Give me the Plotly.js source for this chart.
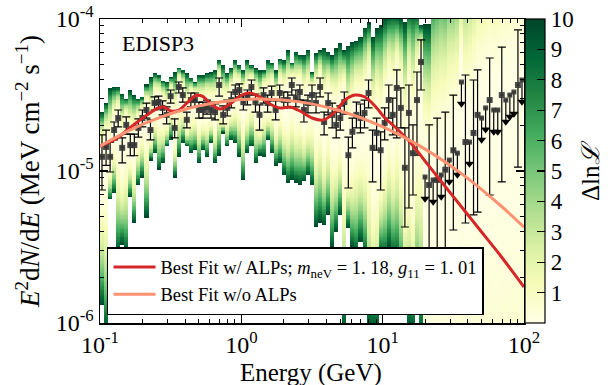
<!DOCTYPE html>
<html><head><meta charset="utf-8">
<script src="https://cdn.plot.ly/plotly-3.0.1.min.js"></script>
<style>body{margin:0;background:#fff}#plot{width:613px;height:385px}</style>
</head><body><div id="plot"></div>
<script>
// Energy bin centres (GeV)
const energy = [
 0.1033,0.1104,0.1179,0.1259,0.1345,0.1436,0.1534,0.1638,0.1749,0.1868,0.1995,0.2131,0.2276,0.2431,0.2596,0.2772,0.2961,0.3162,0.3377,0.3607,0.3852,0.4114,0.4394,0.4693,0.5012,0.5353,0.5717,0.6105,0.6520,0.6964,0.7437,0.7943,0.8483,0.9060,0.9676,
 1.033,1.104,1.179,1.259,1.345,1.436,1.534,1.638,1.749,1.868,1.995,2.131,2.276,2.431,2.596,2.772,2.961,3.162,3.377,3.607,3.852,4.114,4.394,4.693,5.012,5.353,5.717,6.105,6.520,6.964,7.437,7.943,8.483,9.060,9.676,
 10.33,11.04,11.79,12.59,13.45,14.36,15.34,16.38,17.49,18.68,19.95,21.31,22.76,24.31,25.96,27.72,29.61,31.62,33.77,36.07,38.52,41.14,43.94,46.93,50.12,53.53,57.17,61.05,65.20,69.64,74.37,79.43,84.83,90.60,96.76];
const SCALE = 1e-5; // flux unit: 1e-5 MeV cm^-2 s^-1
// flux (marker) ; upper limits where fluxHi is null
const flux = [
 1.24,1.44,1.24,1.86,2.23,1.42,2.01,1.48,1.48,1.92,
 2.23,2.52,1.86,2.80,2.84,2.60,2.34,3.11,1.92,3.57,
 3.16,2.17,2.93,2.93,2.52,2.52,2.64,2.52,2.44,3.68,
 2.34,2.60,2.93,3.31,3.41,2.84,3.07,3.57,2.84,2.34,
 3.16,2.80,3.26,2.52,3.26,2.93,2.93,3.68,3.02,3.31,
 2.52,2.80,3.16,2.80,3.57,2.10,2.80,2.34,2.01,2.23,
 2.84,1.27,1.81,2.34,2.23,2.41,3.26,1.42,1.78,1.37,
 2.07,2.93,2.34,3.52,2.60,1.05,2.41,1.31,2.93,5.21,
 0.913,0.809,0.873,0.873,0.941,1.02,1.18,1.37,1.31,3.85,
 1.55,1.55,1.78,2.34,2.23,2.60,2.93,2.52,2.52,3.16,
 2.93,3.16,3.31,3.68,3.97];
const fluxHi = [
 1.73,1.86,1.55,2.10,2.52,1.65,2.27,1.75,1.75,2.20,
 2.52,2.80,2.17,3.07,3.11,2.89,2.64,3.41,2.20,3.85,
 3.52,2.44,3.26,3.26,2.84,2.84,2.93,2.84,2.76,4.09,
 2.68,2.93,3.31,3.68,3.74,3.16,3.41,3.97,3.21,2.72,
 3.52,3.16,3.62,2.93,3.68,3.31,3.31,4.09,3.41,3.68,
 2.93,3.16,3.68,3.26,4.09,2.44,3.26,2.80,2.44,2.68,
 3.31,1.67,2.23,2.84,2.76,2.93,3.97,1.86,2.23,1.81,
 2.60,3.68,3.02,4.62,3.52,1.92,3.68,2.01,4.48,7.28,
 null,2.01,null,2.23,null,2.44,null,3.16,null,null,
 4.28,null,3.97,4.62,null,null,5.54,null,null,6.54,
 null,null,null,8.47,null];
const fluxLo = [
 0.750,1.09,0.985,1.60,1.95,1.13,1.75,1.26,1.26,1.67,
 1.95,2.23,1.60,2.52,2.56,2.34,2.04,2.80,1.65,3.26,
 2.84,1.92,2.64,2.64,2.23,2.23,2.37,2.23,2.17,3.11,
 2.04,2.30,2.60,2.98,3.07,2.52,2.72,3.16,2.44,1.86,
 2.80,2.44,2.89,2.17,2.89,2.60,2.60,3.16,2.64,2.93,
 2.10,2.41,2.72,2.41,3.07,1.73,2.34,1.92,1.65,1.86,
 2.37,0.773,1.42,1.92,1.78,1.92,2.60,0.847,1.37,0.750,
 1.60,2.23,1.73,1.65,1.92,0.428,0.571,0.695,1.27,3.41,
 null,0.280,null,0.289,null,0.302,null,0.409,null,null,
 0.455,null,0.514,0.537,null,null,0.695,null,null,0.847,
 null,null,null,1.06,null];
// flux where the bin likelihood profile reaches dlnL = 10 (above / below)
const profTop = [
 2.44,2.80,3.52,3.57,3.57,3.26,3.02,3.41,3.16,3.02,
 3.07,3.68,4.15,4.41,4.28,3.97,3.85,4.15,4.48,4.83,
 4.62,4.41,4.09,3.85,4.28,4.28,4.41,4.48,4.62,5.37,
 4.98,4.41,4.76,5.37,4.98,4.62,5.37,4.98,4.76,4.62,
 4.62,5.37,5.21,4.62,5.54,5.37,6.25,5.21,6.07,5.80,
 5.80,6.25,4.48,5.97,6.25,6.45,6.07,5.80,6.45,6.95,
 6.25,6.74,7.06,7.28,7.61,8.86,9.41,7.61,8.73,9.13,
 10.2,10.6,11.1,10.6,10.2,9.56,11.5,11.8,11.1,9.13,
 9.27,9.27,17.0,19.0,21.0,19.0,23.0,21.0,25.0,21.0,
 27.0,32.0,40.0,45.0,50.0,50.0,55.0,55.0,62.0,62.0,
 70.6,70.6,82.1,82.1,82.1];
const profBot = [
 0.131,0.0899,0.644,0.716,0.289,0.326,0.289,0.674,0.455,0.809,
 0.913,0.498,1.18,1.31,1.02,1.13,1.44,1.60,0.913,1.24,
 1.53,1.44,1.31,1.37,1.13,1.37,1.24,1.53,1.13,1.27,
 1.78,1.44,1.60,1.53,1.24,0.873,1.31,1.44,1.13,1.27,
 1.24,1.60,1.31,1.09,1.13,0.941,0.834,0.873,0.834,0.809,
 0.847,0.941,0.809,0.428,0.455,0.441,0.514,0.311,0.397,0.514,
 0.0899,0.422,0.311,0.280,0.341,0.268,0.0899,0.0899,0.0899,0.280,
 0.268,0.311,0.268,0.260,0.192,0.142,0.0899,0.0899,0.142,0.0773,
 0.0002,0.0001,0.0002,0.0001,0.0001,0.0001,0.0001,0.0001,0.0001,0.0001,
 0.0001,0.0001,0.0001,0.0001,0.0001,0.0001,0.0001,0.0001,0.0001,0.0001,
 0.0001,0.0001,0.0001,0.0001,0.0001];
// Best-fit spectra
const fitALPsE = [0.1,0.1177,0.1385,0.1657,0.1919,0.2258,0.2573,0.2837,0.3180,0.3623,0.4127,0.4700,0.5269,0.6102,0.7064,0.8315,0.9786,1.152,1.356,1.595,1.878,2.210,2.601,3.162,3.784,4.601,5.414,6.373,7.499,8.827,10.39,12.23,15.61,19.93,25.45,35.26,48.84,67.65,100];
const fitALPsF = [1.460,1.551,1.699,1.948,2.165,2.408,2.597,2.637,2.481,2.519,2.802,3.115,3.115,2.759,2.558,2.759,3.115,3.261,3.068,2.759,2.597,2.637,2.481,2.232,2.165,2.444,2.932,3.162,3.068,2.677,2.232,1.948,1.551,1.164,0.873,0.5975,0.4091,0.2802,0.1725];
const fitNoALPsE = [0.1,0.163,0.266,0.433,0.706,1.356,2.60,4.99,9.58,18.4,35.3,67.6,100];
const fitNoALPsF = [1.458,1.858,2.252,2.597,2.849,2.977,2.849,2.489,1.992,1.458,0.976,0.5975,0.4269];
const xTickVals = [0.1,1,10,100], xTickText = ['10<sup>-1</sup>','10<sup>0</sup>','10<sup>1</sup>','10<sup>2</sup>'];
const yTickVals = [1e-6,1e-5,1e-4], yTickText = ['10<sup>-6</sup>','10<sup>-5</sup>','10<sup>-4</sup>'];
const cbTicks = [1,2,3,4,5,6,7,8,9,10];
const legendALPs = 'Best Fit w/ ALPs; <i>m</i><sub>neV</sub> = 1. 18, <i>g</i><sub>11</sub> = 1. 01';
const legendNoALPs = 'Best Fit w/o ALPs';
const xTitle = 'Energy (GeV)';
const yTitle = '<i>E</i><sup>2</sup>d<i>N</i>/d<i>E</i> (MeV cm<sup>−2</sup> s<sup>−1</sup>)';
const cbTitle = 'Δln<i>ℒ</i>';
const panelLabel = 'EDISP3';

// ---------- build ----------
const n = energy.length;
const xEdges = [];
for (let i=1;i<n;i++) xEdges.push(Math.sqrt(energy[i-1]*energy[i]));
xEdges.unshift(energy[0]*energy[0]/xEdges[0]);
xEdges.push(energy[n-1]*energy[n-1]/xEdges[xEdges.length-1]);
const NY = 240, Y0 = -6.02, Y1 = -3.98, PROFILE_POW = 2.6;
const yEdges = [], z = [];
for (let k=0;k<=NY;k++) yEdges.push(Math.pow(10, Y0+(Y1-Y0)*k/NY));
for (let k=0;k<NY;k++){
  const ly = Y0+(Y1-Y0)*(k+0.5)/NY; const row=[];
  for (let i=0;i<n;i++){
    const c=Math.log10(flux[i]*SCALE), t=Math.log10(profTop[i]*SCALE), b=Math.log10(profBot[i]*SCALE);
    const d = ly>=c ? (ly-c)/(t-c) : (c-ly)/(c-b);
    const v = 10*Math.pow(d, PROFILE_POW); row.push(v<=10?v:null);
  }
  z.push(row);
}
const YlGn = [[0,'#ffffe5'],[0.125,'#f7fcb9'],[0.25,'#d9f0a3'],[0.375,'#addd8e'],[0.5,'#78c679'],[0.625,'#41ab5d'],[0.75,'#238443'],[0.875,'#006837'],[1,'#004529']];
const FONT = 'Liberation Serif';
const ARROW = 0.72;
const mE=[],mF=[],mP=[],mM=[],mXm=[],mXp=[], uE=[],uF=[],uD=[],uXm=[],uXp=[],uT=[];
for (let i=0;i<n;i++){
  const xm = energy[i]-xEdges[i], xp = xEdges[i+1]-energy[i];
  if (fluxHi[i]!==null){
    mE.push(energy[i]); mF.push(flux[i]*SCALE); mP.push((fluxHi[i]-flux[i])*SCALE); mM.push((flux[i]-fluxLo[i])*SCALE); mXm.push(xm); mXp.push(xp);
  } else {
    uE.push(energy[i]); uF.push(flux[i]*SCALE); uD.push(flux[i]*SCALE*(1-ARROW)); uT.push(flux[i]*SCALE*ARROW); uXm.push(xm); uXp.push(xp);
  }
}
const traces = [
 {type:'heatmap', x:xEdges, y:yEdges, z:z, zmin:0, zmax:10, colorscale:YlGn, connectgaps:false, zsmooth:false, hoverinfo:'skip', showlegend:false,
  colorbar:{x:1.0024, xanchor:'left', y:0.5, yanchor:'middle', len:1, lenmode:'fraction', thickness:20, thicknessmode:'pixels', xpad:0, ypad:0,
   outlinewidth:1.2, outlinecolor:'black', ticks:'inside', ticklen:8, tickwidth:1.2, tickcolor:'black', tickmode:'array', tickvals:cbTicks, ticktext:cbTicks.map(String),
   tickfont:{size:23, family:FONT}}},
 {type:'scatter', mode:'markers', x:mE, y:mF, showlegend:false, hoverinfo:'skip',
  marker:{symbol:'square', size:6, color:'rgba(55,55,55,0.9)'},
  error_y:{type:'data', symmetric:false, array:mP, arrayminus:mM, color:'black', thickness:1.2, width:4},
  error_x:{type:'data', symmetric:false, array:mXp, arrayminus:mXm, color:'black', thickness:1.2, width:0}},
 {type:'scatter', mode:'markers', x:uE, y:uF, showlegend:false, hoverinfo:'skip',
  marker:{symbol:'square', size:5, color:'rgba(55,55,55,0.9)'},
  error_y:{type:'data', symmetric:false, array:uD.map(()=>0), arrayminus:uD, color:'black', thickness:1.2, width:0},
  error_x:{type:'data', symmetric:false, array:uXp, arrayminus:uXm, color:'black', thickness:1.2, width:0}},
 {type:'scatter', mode:'markers', x:uE, y:uT, showlegend:false, hoverinfo:'skip',
  marker:{symbol:'triangle-down', size:8, color:'black'}},
 {type:'scatter', mode:'lines', x:fitALPsE, y:fitALPsF.map(v=>v*SCALE), name:legendALPs, legendgroup:'a', line:{color:'#d62728', width:3, shape:'spline', smoothing:0.8}, hoverinfo:'skip'},
 {type:'scatter', mode:'lines', x:fitNoALPsE, y:fitNoALPsF.map(v=>v*SCALE), name:legendNoALPs, legendgroup:'b', line:{color:'#fc9272', width:3, shape:'spline', smoothing:1}, hoverinfo:'skip'}
];
const xMinor=[], yMinor=[];
[0.1,1,10].forEach(d=>{for(let k=2;k<=9;k++) xMinor.push(k*d);});
[1e-6,1e-5].forEach(d=>{for(let k=2;k<=9;k++) yMinor.push(k*d);});
// colorbar minor ticks (0.2 steps), drawn as short lines at the bar's right edge
const cbX1 = (545-100)/424, cbX0 = (541-100)/424;
const shapes = [];
for (let k=1;k<50;k++){ if (k%5===0) continue; const v=k/5/10;
  shapes.push({type:'line', xref:'paper', yref:'paper', x0:cbX0, x1:cbX1, y0:v, y1:v, line:{color:'black', width:1}}); }
const axisCommon = {showgrid:false, zeroline:false, showline:true, linecolor:'black', linewidth:1.5, mirror:'allticks',
  ticks:'inside', ticklen:8, tickwidth:1.2, tickcolor:'black', tickmode:'array', tickfont:{size:24, family:FONT}, automargin:false};
const layout = {
  width:613, height:385, margin:{l:100, r:89, t:19, b:62},
  paper_bgcolor:'white', plot_bgcolor:'white',
  font:{family:FONT, color:'black'},
  xaxis:Object.assign({}, axisCommon, {type:'log', range:[-1,2], tickvals:xTickVals, ticktext:xTickText,
    minor:{tickmode:'array', tickvals:xMinor, ticks:'inside', ticklen:4, tickwidth:1, tickcolor:'black', showgrid:false}}),
  yaxis:Object.assign({}, axisCommon, {type:'log', range:[-6,-4], tickvals:yTickVals, ticktext:yTickText,
    minor:{tickmode:'array', tickvals:yMinor, ticks:'inside', ticklen:4, tickwidth:1, tickcolor:'black', showgrid:false}}),
  legend:{x:0.0165, y:0.026, xanchor:'left', yanchor:'bottom', bgcolor:'white', bordercolor:'black', borderwidth:1.5,
    font:{size:18.5, family:FONT}, traceorder:'grouped', tracegroupgap:0, itemwidth:42},
  shapes:shapes,
  annotations:[
    {text:panelLabel, xref:'paper', yref:'paper', x:0.047, y:0.921, xanchor:'left', yanchor:'middle', showarrow:false, font:{size:22, family:FONT}},
    {text:xTitle, xref:'paper', yref:'paper', x:(311-100)/424, y:(323-373)/304, xanchor:'center', yanchor:'middle', showarrow:false, font:{size:25, family:FONT}},
    {text:yTitle, xref:'paper', yref:'paper', x:(28-100)/424, y:(323-172)/304, xanchor:'center', yanchor:'middle', textangle:-90, showarrow:false, font:{size:27, family:FONT}},
    {text:cbTitle, xref:'paper', yref:'paper', x:(590-100)/424, y:0.5, xanchor:'center', yanchor:'middle', textangle:-90, showarrow:false, font:{size:25, family:FONT}}
  ]
};
Plotly.newPlot('plot', traces, layout, {staticPlot:true, displayModeBar:false});
</script></body></html>
